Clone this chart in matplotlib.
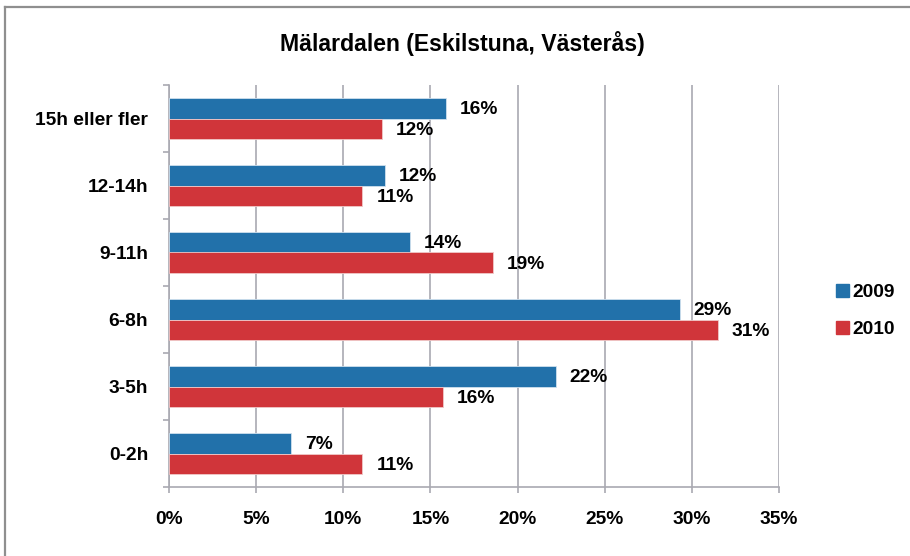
import matplotlib
matplotlib.use("Agg")
import matplotlib.pyplot as plt
from matplotlib.lines import Line2D
from matplotlib.patches import Patch
import numpy as np

categories = ["0-2h", "3-5h", "6-8h", "9-11h", "12-14h", "15h eller fler"]
values_2009 = [7.0, 22.2, 29.3, 13.8, 12.4, 15.9]
values_2010 = [11.1, 15.7, 31.5, 18.6, 11.1, 12.2]
labels_2009 = ["7%", "22%", "29%", "14%", "12%", "16%"]
labels_2010 = ["11%", "16%", "31%", "19%", "11%", "12%"]
series_names = ["2009", "2010"]
xticks = [0, 5, 10, 15, 20, 25, 30, 35]
xtick_labels = ["0%", "5%", "10%", "15%", "20%", "25%", "30%", "35%"]
title = "Mälardalen (Eskilstuna, Västerås)"

blue = "#2271AA"
red = "#D0353A"
grid_c = "#A9A9B1"

plt.rcParams['font.family'] = ['Liberation Sans', 'DejaVu Sans']
plt.rcParams['font.weight'] = 'bold'

fig = plt.figure(figsize=(9.1, 5.56), dpi=100)
ax = fig.add_axes([169/910, 1-487/556, 610/910, 402/556])

y = np.arange(len(categories))
h = 0.31
ax.barh(y + h/2, values_2009, height=h, color=blue, edgecolor="#cfe0ee", linewidth=0.6, zorder=3)
ax.barh(y - h/2, values_2010, height=h, color=red, edgecolor="#f0c8c8", linewidth=0.6, zorder=3)

fs = 13.8
for yi, v, lab in zip(y, values_2009, labels_2009):
    ax.annotate(lab, (v, yi + h/2), xytext=(10, -1), textcoords="offset points",
                va="center", ha="left", fontsize=fs, fontweight="bold", zorder=4)
for yi, v, lab in zip(y, values_2010, labels_2010):
    ax.annotate(lab, (v, yi - h/2), xytext=(10, -1), textcoords="offset points",
                va="center", ha="left", fontsize=fs, fontweight="bold", zorder=4)

ax.set_xlim(0, 35)
ax.set_ylim(-0.5, 5.5)
ax.set_xticks(xticks)
ax.set_xticklabels(xtick_labels, fontsize=fs, fontweight="bold")
ax.set_yticks(y)
ax.set_yticklabels(categories, fontsize=fs, fontweight="bold")
ax.set_yticks(np.arange(-0.5, 6.0, 1.0), minor=True)
ax.tick_params(axis="y", which="major", length=0, pad=15)
ax.tick_params(axis="y", which="minor", length=4, width=1.2, color=grid_c, direction="out")
ax.tick_params(axis="x", which="major", length=4, width=1.2, color=grid_c, direction="out", pad=13)

ax.grid(axis="x", color=grid_c, linewidth=1.2, zorder=0)
for s in ["top", "right"]:
    ax.spines[s].set_visible(False)
for s in ["left", "bottom"]:
    ax.spines[s].set_color(grid_c)
    ax.spines[s].set_linewidth(1.2)

fig.text(462/910, 1-44/556, title, ha="center", va="center", fontsize=16.6, fontweight="bold")

handles = [Patch(facecolor=blue, edgecolor=blue), Patch(facecolor=red, edgecolor=red)]
fig.legend(handles, series_names, loc="upper left", bbox_to_anchor=(836/910, 1-284/556),
           frameon=False, fontsize=fs, handlelength=0.7, handleheight=0.7,
           handletextpad=0.15, labelspacing=1.0, borderaxespad=0, borderpad=0)

fig.add_artist(Line2D([5/910, 5/910], [0, 1-7/556], transform=fig.transFigure, color="#8f8f8f", linewidth=1.6))
fig.add_artist(Line2D([5/910, 1], [1-7/556, 1-7/556], transform=fig.transFigure, color="#8f8f8f", linewidth=1.6))

fig.savefig("out.png", dpi=100)
